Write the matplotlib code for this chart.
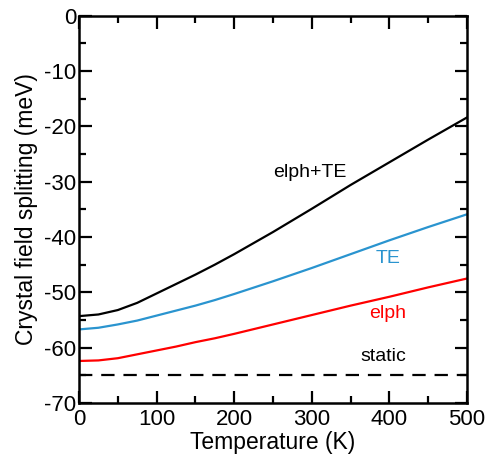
import matplotlib
matplotlib.use('Agg')
import matplotlib.pyplot as plt
from matplotlib.ticker import MultipleLocator

plt.rcParams['font.family'] = ['Liberation Sans', 'DejaVu Sans']
plt.rcParams['axes.unicode_minus'] = False

temp = [0, 25, 50, 75, 100, 125, 150, 175, 200, 250, 300, 350, 400, 450, 500]
elph_te = [-54.3, -54.0, -53.2, -51.9, -50.2, -48.5, -46.8, -45.0, -43.1, -39.1, -34.9, -30.6, -26.5, -22.4, -18.4]
te = [-56.7, -56.4, -55.8, -55.1, -54.2, -53.3, -52.4, -51.4, -50.3, -48.0, -45.6, -43.1, -40.6, -38.2, -35.9]
elph = [-62.4, -62.3, -61.9, -61.2, -60.5, -59.8, -59.0, -58.3, -57.5, -55.8, -54.1, -52.4, -50.8, -49.1, -47.5]
static_t = [0, 500]
static = [-65.0, -65.0]

fig = plt.figure(figsize=(4.86, 4.58), dpi=100)
ax = fig.add_axes([0.1626, 0.12, 0.7984, 0.846])

ax.plot(temp, elph_te, color='black', lw=1.6)
ax.plot(temp, te, color='#2a94cf', lw=1.6)
ax.plot(temp, elph, color='red', lw=1.6)
ax.plot(static_t, static, color='black', lw=1.6, dashes=(6, 4))

ax.text(298, -28.3, 'elph+TE', color='black', fontsize=14, ha='center', va='center')
ax.text(398, -43.9, 'TE', color='#2a94cf', fontsize=14, ha='center', va='center')
ax.text(398, -53.8, 'elph', color='red', fontsize=14, ha='center', va='center')
ax.text(392, -61.6, 'static', color='black', fontsize=14, ha='center', va='center')

ax.set_xlim(0, 500)
ax.set_ylim(-70, 0)
ax.xaxis.set_major_locator(MultipleLocator(100))
ax.xaxis.set_minor_locator(MultipleLocator(50))
ax.yaxis.set_major_locator(MultipleLocator(10))
ax.yaxis.set_minor_locator(MultipleLocator(5))
ax.tick_params(which='both', direction='in', top=True, right=True, width=1.6, labelsize=16)
ax.tick_params(axis='x', pad=4)
ax.tick_params(axis='y', pad=2)
ax.tick_params(which='major', length=9)
ax.tick_params(which='minor', length=5)
for s in ax.spines.values():
    s.set_linewidth(1.8)

ax.set_xlabel('Temperature (K)', fontsize=16.5, labelpad=1)
ax.set_ylabel('Crystal field splitting (meV)', fontsize=16.5, labelpad=4)

fig.savefig('out.png', dpi=100)
